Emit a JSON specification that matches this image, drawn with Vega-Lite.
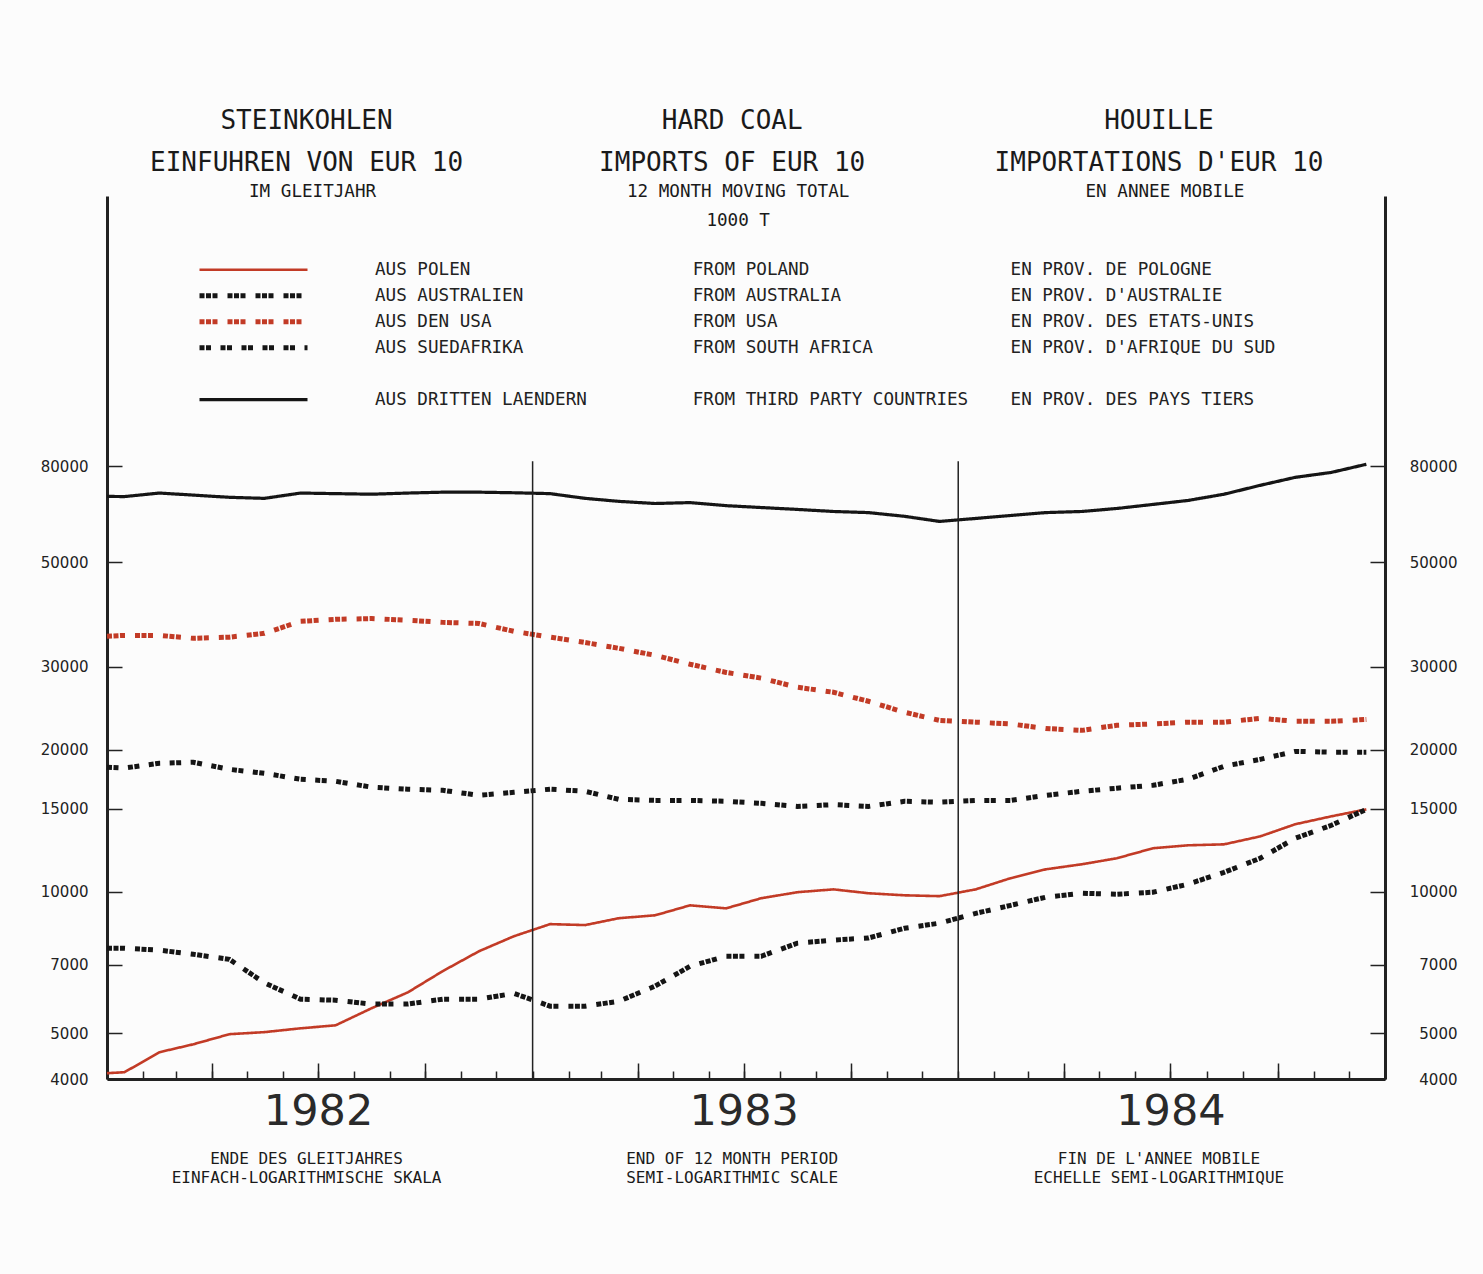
{
  "$schema": "https://vega.github.io/schema/vega-lite/v6.json",
  "width": 1278,
  "height": 883,
  "padding": {"left": 40, "top": 107, "right": 26, "bottom": 89},
  "background": "#fcfcfc",
  "datasets": {
    "lines": [
      {"s":"Polen","d":"1982-01-01T00:00","v":4115},
      {"s":"Polen","d":"1982-01-16T00:00","v":4135},{"s":"Polen","d":"1982-02-15T00:00","v":4560},{"s":"Polen","d":"1982-03-16T00:00","v":4740},{"s":"Polen","d":"1982-04-16T00:00","v":4980},{"s":"Polen","d":"1982-05-16T00:00","v":5030},{"s":"Polen","d":"1982-06-16T00:00","v":5125},{"s":"Polen","d":"1982-07-16T00:00","v":5200},{"s":"Polen","d":"1982-08-16T00:00","v":5655},{"s":"Polen","d":"1982-09-16T00:00","v":6110},{"s":"Polen","d":"1982-10-16T00:00","v":6780},{"s":"Polen","d":"1982-11-16T00:00","v":7470},{"s":"Polen","d":"1982-12-16T00:00","v":8040},
      {"s":"Polen","d":"1983-01-16T00:00","v":8530},{"s":"Polen","d":"1983-02-15T00:00","v":8490},{"s":"Polen","d":"1983-03-16T00:00","v":8780},{"s":"Polen","d":"1983-04-16T00:00","v":8905},{"s":"Polen","d":"1983-05-16T00:00","v":9350},{"s":"Polen","d":"1983-06-16T00:00","v":9215},{"s":"Polen","d":"1983-07-16T00:00","v":9680},{"s":"Polen","d":"1983-08-16T00:00","v":9970},{"s":"Polen","d":"1983-09-16T00:00","v":10110},{"s":"Polen","d":"1983-10-16T00:00","v":9920},{"s":"Polen","d":"1983-11-16T00:00","v":9820},{"s":"Polen","d":"1983-12-16T00:00","v":9780},
      {"s":"Polen","d":"1984-01-16T00:00","v":10110},{"s":"Polen","d":"1984-02-15T00:00","v":10680},{"s":"Polen","d":"1984-03-16T00:00","v":11150},{"s":"Polen","d":"1984-04-16T00:00","v":11430},{"s":"Polen","d":"1984-05-16T00:00","v":11770},{"s":"Polen","d":"1984-06-16T00:00","v":12360},{"s":"Polen","d":"1984-07-16T00:00","v":12540},{"s":"Polen","d":"1984-08-16T00:00","v":12600},{"s":"Polen","d":"1984-09-16T00:00","v":13100},{"s":"Polen","d":"1984-10-16T00:00","v":13900},{"s":"Polen","d":"1984-11-16T00:00","v":14450},{"s":"Polen","d":"1984-12-16T00:00","v":14950},

      {"s":"Australien","d":"1982-01-01T00:00","v":7580},
      {"s":"Australien","d":"1982-01-16T00:00","v":7580},{"s":"Australien","d":"1982-02-15T00:00","v":7510},{"s":"Australien","d":"1982-03-16T00:00","v":7360},{"s":"Australien","d":"1982-04-16T00:00","v":7180},{"s":"Australien","d":"1982-05-16T00:00","v":6400},{"s":"Australien","d":"1982-06-16T00:00","v":5910},{"s":"Australien","d":"1982-07-16T00:00","v":5880},{"s":"Australien","d":"1982-08-16T00:00","v":5770},{"s":"Australien","d":"1982-09-16T00:00","v":5770},{"s":"Australien","d":"1982-10-16T00:00","v":5910},{"s":"Australien","d":"1982-11-16T00:00","v":5910},{"s":"Australien","d":"1982-12-16T00:00","v":6080},
      {"s":"Australien","d":"1983-01-16T00:00","v":5710},{"s":"Australien","d":"1983-02-15T00:00","v":5710},{"s":"Australien","d":"1983-03-16T00:00","v":5850},{"s":"Australien","d":"1983-04-16T00:00","v":6300},{"s":"Australien","d":"1983-05-16T00:00","v":6940},{"s":"Australien","d":"1983-06-16T00:00","v":7290},{"s":"Australien","d":"1983-07-16T00:00","v":7290},{"s":"Australien","d":"1983-08-16T00:00","v":7770},{"s":"Australien","d":"1983-09-16T00:00","v":7890},{"s":"Australien","d":"1983-10-16T00:00","v":7970},{"s":"Australien","d":"1983-11-16T00:00","v":8360},{"s":"Australien","d":"1983-12-16T00:00","v":8570},
      {"s":"Australien","d":"1984-01-16T00:00","v":8990},{"s":"Australien","d":"1984-02-15T00:00","v":9350},{"s":"Australien","d":"1984-03-16T00:00","v":9730},{"s":"Australien","d":"1984-04-16T00:00","v":9920},{"s":"Australien","d":"1984-05-16T00:00","v":9870},{"s":"Australien","d":"1984-06-16T00:00","v":9970},{"s":"Australien","d":"1984-07-16T00:00","v":10370},{"s":"Australien","d":"1984-08-16T00:00","v":10990},{"s":"Australien","d":"1984-09-16T00:00","v":11770},{"s":"Australien","d":"1984-10-16T00:00","v":12980},{"s":"Australien","d":"1984-11-16T00:00","v":13830},{"s":"Australien","d":"1984-12-16T00:00","v":14950},

      {"s":"USA","d":"1982-01-01T00:00","v":34850},
      {"s":"USA","d":"1982-01-16T00:00","v":35000},{"s":"USA","d":"1982-02-15T00:00","v":35000},{"s":"USA","d":"1982-03-16T00:00","v":34500},{"s":"USA","d":"1982-04-16T00:00","v":34700},{"s":"USA","d":"1982-05-16T00:00","v":35350},{"s":"USA","d":"1982-06-16T00:00","v":37500},{"s":"USA","d":"1982-07-16T00:00","v":37860},{"s":"USA","d":"1982-08-16T00:00","v":38000},{"s":"USA","d":"1982-09-16T00:00","v":37700},{"s":"USA","d":"1982-10-16T00:00","v":37300},{"s":"USA","d":"1982-11-16T00:00","v":37100},{"s":"USA","d":"1982-12-16T00:00","v":35700},
      {"s":"USA","d":"1983-01-16T00:00","v":34700},{"s":"USA","d":"1983-02-15T00:00","v":33800},{"s":"USA","d":"1983-03-16T00:00","v":32860},{"s":"USA","d":"1983-04-16T00:00","v":31750},{"s":"USA","d":"1983-05-16T00:00","v":30400},{"s":"USA","d":"1983-06-16T00:00","v":29200},{"s":"USA","d":"1983-07-16T00:00","v":28400},{"s":"USA","d":"1983-08-16T00:00","v":27160},{"s":"USA","d":"1983-09-16T00:00","v":26500},{"s":"USA","d":"1983-10-16T00:00","v":25360},{"s":"USA","d":"1983-11-16T00:00","v":24030},{"s":"USA","d":"1983-12-16T00:00","v":23100},
      {"s":"USA","d":"1984-01-16T00:00","v":22900},{"s":"USA","d":"1984-02-15T00:00","v":22700},{"s":"USA","d":"1984-03-16T00:00","v":22200},{"s":"USA","d":"1984-04-16T00:00","v":22000},{"s":"USA","d":"1984-05-16T00:00","v":22550},{"s":"USA","d":"1984-06-16T00:00","v":22700},{"s":"USA","d":"1984-07-16T00:00","v":22900},{"s":"USA","d":"1984-08-16T00:00","v":22900},{"s":"USA","d":"1984-09-16T00:00","v":23330},{"s":"USA","d":"1984-10-16T00:00","v":23000},{"s":"USA","d":"1984-11-16T00:00","v":23000},{"s":"USA","d":"1984-12-16T00:00","v":23200},

      {"s":"Suedafrika","d":"1982-01-01T00:00","v":18370},
      {"s":"Suedafrika","d":"1982-01-16T00:00","v":18300},{"s":"Suedafrika","d":"1982-02-15T00:00","v":18730},{"s":"Suedafrika","d":"1982-03-16T00:00","v":18820},{"s":"Suedafrika","d":"1982-04-16T00:00","v":18180},{"s":"Suedafrika","d":"1982-05-16T00:00","v":17830},{"s":"Suedafrika","d":"1982-06-16T00:00","v":17320},{"s":"Suedafrika","d":"1982-07-16T00:00","v":17150},{"s":"Suedafrika","d":"1982-08-16T00:00","v":16660},{"s":"Suedafrika","d":"1982-09-16T00:00","v":16500},{"s":"Suedafrika","d":"1982-10-16T00:00","v":16410},{"s":"Suedafrika","d":"1982-11-16T00:00","v":16010},{"s":"Suedafrika","d":"1982-12-16T00:00","v":16250},
      {"s":"Suedafrika","d":"1983-01-16T00:00","v":16500},{"s":"Suedafrika","d":"1983-02-15T00:00","v":16330},{"s":"Suedafrika","d":"1983-03-16T00:00","v":15700},{"s":"Suedafrika","d":"1983-04-16T00:00","v":15620},{"s":"Suedafrika","d":"1983-05-16T00:00","v":15620},{"s":"Suedafrika","d":"1983-06-16T00:00","v":15550},{"s":"Suedafrika","d":"1983-07-16T00:00","v":15400},{"s":"Suedafrika","d":"1983-08-16T00:00","v":15170},{"s":"Suedafrika","d":"1983-09-16T00:00","v":15300},{"s":"Suedafrika","d":"1983-10-16T00:00","v":15170},{"s":"Suedafrika","d":"1983-11-16T00:00","v":15550},{"s":"Suedafrika","d":"1983-12-16T00:00","v":15480},
      {"s":"Suedafrika","d":"1984-01-16T00:00","v":15620},{"s":"Suedafrika","d":"1984-02-15T00:00","v":15620},{"s":"Suedafrika","d":"1984-03-16T00:00","v":16010},{"s":"Suedafrika","d":"1984-04-16T00:00","v":16330},{"s":"Suedafrika","d":"1984-05-16T00:00","v":16580},{"s":"Suedafrika","d":"1984-06-16T00:00","v":16820},{"s":"Suedafrika","d":"1984-07-16T00:00","v":17320},{"s":"Suedafrika","d":"1984-08-16T00:00","v":18460},{"s":"Suedafrika","d":"1984-09-16T00:00","v":19090},{"s":"Suedafrika","d":"1984-10-16T00:00","v":19850},{"s":"Suedafrika","d":"1984-11-16T00:00","v":19770},{"s":"Suedafrika","d":"1984-12-16T00:00","v":19770},

      {"s":"Dritte","d":"1982-01-01T00:00","v":69060},
      {"s":"Dritte","d":"1982-01-16T00:00","v":69000},{"s":"Dritte","d":"1982-02-15T00:00","v":70200},{"s":"Dritte","d":"1982-03-16T00:00","v":69500},{"s":"Dritte","d":"1982-04-16T00:00","v":68750},{"s":"Dritte","d":"1982-05-16T00:00","v":68400},{"s":"Dritte","d":"1982-06-16T00:00","v":70200},{"s":"Dritte","d":"1982-07-16T00:00","v":70000},{"s":"Dritte","d":"1982-08-16T00:00","v":69800},{"s":"Dritte","d":"1982-09-16T00:00","v":70200},{"s":"Dritte","d":"1982-10-16T00:00","v":70500},{"s":"Dritte","d":"1982-11-16T00:00","v":70500},{"s":"Dritte","d":"1982-12-16T00:00","v":70300},
      {"s":"Dritte","d":"1983-01-16T00:00","v":70000},{"s":"Dritte","d":"1983-02-15T00:00","v":68400},{"s":"Dritte","d":"1983-03-16T00:00","v":67400},{"s":"Dritte","d":"1983-04-16T00:00","v":66700},{"s":"Dritte","d":"1983-05-16T00:00","v":67000},{"s":"Dritte","d":"1983-06-16T00:00","v":66000},{"s":"Dritte","d":"1983-07-16T00:00","v":65400},{"s":"Dritte","d":"1983-08-16T00:00","v":64800},{"s":"Dritte","d":"1983-09-16T00:00","v":64150},{"s":"Dritte","d":"1983-10-16T00:00","v":63800},{"s":"Dritte","d":"1983-11-16T00:00","v":62650},{"s":"Dritte","d":"1983-12-16T00:00","v":61100},
      {"s":"Dritte","d":"1984-01-16T00:00","v":62000},{"s":"Dritte","d":"1984-02-15T00:00","v":62900},{"s":"Dritte","d":"1984-03-16T00:00","v":63800},{"s":"Dritte","d":"1984-04-16T00:00","v":64150},{"s":"Dritte","d":"1984-05-16T00:00","v":65100},{"s":"Dritte","d":"1984-06-16T00:00","v":66400},{"s":"Dritte","d":"1984-07-16T00:00","v":67700},{"s":"Dritte","d":"1984-08-16T00:00","v":69800},{"s":"Dritte","d":"1984-09-16T00:00","v":72900},{"s":"Dritte","d":"1984-10-16T00:00","v":75800},{"s":"Dritte","d":"1984-11-16T00:00","v":77650},{"s":"Dritte","d":"1984-12-16T00:00","v":80800}
    ],
    "years": [
      {"d":"1983-01-01T00:00","lo":4000,"hi":82000},
      {"d":"1984-01-01T00:00","lo":4000,"hi":82000}
    ]
  },
  "encoding": {
    "color": {
      "field": "s", "type": "nominal",
      "scale": {"domain": ["Polen","Australien","USA","Suedafrika","Leer","Dritte"],
                "range": ["#c23b26","#151515","#c23b26","#151515","transparent","#151515"]},
      "legend": {
        "orient": "none", "legendX": 90, "legendY": 61, "title": null,
        "symbolType": "stroke", "symbolSize": 11664, "clipHeight": 25.4,
        "rowPadding": 0, "padding": 0, "labelOffset": 65, "symbolOffset": 0,
        "labelFont": "DejaVu Sans Mono", "labelFontSize": 17.6, "labelColor": "#222", "labelLimit": 2000,
        "labelExpr": "datum.label=='Polen' ? pad('AUS POLEN',30,'\u00a0')+pad('FROM POLAND',30,'\u00a0')+'EN PROV. DE POLOGNE' : datum.label=='Australien' ? pad('AUS AUSTRALIEN',30,'\u00a0')+pad('FROM AUSTRALIA',30,'\u00a0')+\"EN PROV. D'AUSTRALIE\" : datum.label=='USA' ? pad('AUS DEN USA',30,'\u00a0')+pad('FROM USA',30,'\u00a0')+'EN PROV. DES ETATS-UNIS' : datum.label=='Suedafrika' ? pad('AUS SUEDAFRIKA',30,'\u00a0')+pad('FROM SOUTH AFRICA',30,'\u00a0')+\"EN PROV. D'AFRIQUE DU SUD\" : datum.label=='Dritte' ? pad('AUS DRITTEN LAENDERN',30,'\u00a0')+pad('FROM THIRD PARTY COUNTRIES',30,'\u00a0')+'EN PROV. DES PAYS TIERS' : ''"
      }
    },
    "strokeDash": {
      "field": "s", "type": "nominal",
      "scale": {"domain": ["Polen","Australien","USA","Suedafrika","Leer","Dritte"],
                "range": [[1,0],[5,1.5,5,1.5,5,10],[5,1.5,5,1.5,5,10],[5,1.5,5,9.5],[1,0],[1,0]]},
      "legend": {
        "orient": "none", "legendX": 90, "legendY": 61, "title": null,
        "symbolType": "stroke", "symbolSize": 11664, "clipHeight": 25.4,
        "rowPadding": 0, "padding": 0, "labelOffset": 65, "symbolOffset": 0,
        "labelFont": "DejaVu Sans Mono", "labelFontSize": 17.6, "labelColor": "#222", "labelLimit": 2000
      }
    },
    "strokeWidth": {
      "field": "s", "type": "nominal",
      "scale": {"type": "ordinal", "domain": ["Polen","Australien","USA","Suedafrika","Leer","Dritte"],
                "range": [2.6,5,5,5,1,3.2]},
      "legend": {
        "orient": "none", "legendX": 90, "legendY": 61, "title": null,
        "symbolType": "stroke", "symbolSize": 11664, "clipHeight": 25.4,
        "rowPadding": 0, "padding": 0, "labelOffset": 65, "symbolOffset": 0,
        "labelFont": "DejaVu Sans Mono", "labelFontSize": 17.6, "labelColor": "#222", "labelLimit": 2000
      }
    }
  },
  "layer": [
    {
      "data": {"name": "lines"},
      "transform": [{"filter": "datum.s=='Polen' || datum.s=='Dritte'"}],
      "mark": {"type": "line"},
      "encoding": {
        "x": {"field": "d", "type": "temporal", "title": null,
              "scale": {"domain": [{"year":1982,"month":1,"date":1},{"year":1985,"month":1,"date":1}]},
              "axis": {"orient": "bottom", "tickCount": {"interval": "month", "step": 1}, "labels": false,
                       "ticks": true, "tickSize": -8, "tickWidth": 1.5, "tickColor": "#222",
                       "domain": true, "domainWidth": 3, "domainColor": "#222", "grid": false}},
        "y": {"field": "v", "type": "quantitative", "title": null,
              "scale": {"type": "log", "domain": [4000, 300000], "nice": false},
              "axis": {"orient": "left", "values": [4000,5000,7000,10000,15000,20000,30000,50000,80000],
                       "format": "d", "tickSize": -15, "tickWidth": 1.5, "tickColor": "#222",
                       "domain": true, "domainWidth": 3, "domainColor": "#222", "grid": false,
                       "labelFont": "DejaVu Sans", "labelFontSize": 15, "labelColor": "#222",
                       "labelPadding": 34, "labelOverlap": false, "labelFlush": false, "labelBound": false}}
      }
    },
    {
      "data": {"name": "lines"},
      "transform": [{"filter": "datum.s=='USA'"}],
      "mark": {"type": "line"},
      "encoding": {
        "x": {"field": "d", "type": "temporal", "title": null,
              "scale": {"domain": [{"year":1982,"month":1,"date":1},{"year":1985,"month":1,"date":1}]},
              "axis": {"orient": "top", "values": [{"year":1982,"month":7,"date":1},{"year":1983,"month":7,"date":1},{"year":1984,"month":7,"date":1}],
                       "ticks": false, "tickSize": 0, "domain": false, "grid": false,
                       "labelExpr": "year(datum.value)==1982 ? ['STEINKOHLEN','EINFUHREN VON EUR 10'] : year(datum.value)==1983 ? ['HARD COAL','IMPORTS OF EUR 10'] : ['HOUILLE',\"IMPORTATIONS D'EUR 10\"]",
                       "labelFont": "DejaVu Sans Mono", "labelFontSize": 26, "labelLineHeight": 42, "labelColor": "#1a1a1a",
                       "labelBaseline": "top", "labelPadding": 89, "labelOffset": -12,
                       "labelOverlap": false, "labelFlush": false, "labelLimit": 1000}},
        "y": {"field": "v", "type": "quantitative", "title": null,
              "scale": {"type": "log", "domain": [4000, 300000], "nice": false}, "axis": null}
      }
    },
    {
      "data": {"name": "lines"},
      "transform": [{"filter": "datum.s=='Australien'"}],
      "mark": {"type": "line"},
      "encoding": {
        "x": {"field": "d", "type": "temporal", "title": null,
              "scale": {"domain": [{"year":1982,"month":1,"date":1},{"year":1985,"month":1,"date":1}]},
              "axis": {"orient": "top", "values": [{"year":1982,"month":7,"date":1},{"year":1983,"month":7,"date":1},{"year":1984,"month":7,"date":1}],
                       "ticks": false, "tickSize": 0, "domain": false, "grid": false,
                       "labelExpr": "year(datum.value)==1982 ? ['IM GLEITJAHR'] : year(datum.value)==1983 ? ['12 MONTH MOVING TOTAL','1000 T'] : ['EN ANNEE MOBILE']",
                       "labelFont": "DejaVu Sans Mono", "labelFontSize": 17.6, "labelLineHeight": 29, "labelColor": "#1a1a1a",
                       "labelBaseline": "top", "labelPadding": 14, "labelOffset": -6,
                       "labelOverlap": false, "labelFlush": false, "labelLimit": 1000}},
        "y": {"field": "v", "type": "quantitative", "title": null,
              "scale": {"type": "log", "domain": [4000, 300000], "nice": false}, "axis": null}
      }
    },
    {
      "data": {"name": "lines"},
      "transform": [{"filter": "datum.s=='Suedafrika'"}],
      "mark": {"type": "line"},
      "encoding": {
        "x": {"field": "d", "type": "temporal", "title": null,
              "scale": {"domain": [{"year":1982,"month":1,"date":1},{"year":1985,"month":1,"date":1}]},
              "axis": {"orient": "bottom", "values": [{"year":1982,"month":7,"date":1},{"year":1983,"month":7,"date":1},{"year":1984,"month":7,"date":1}],
                       "ticks": false, "tickSize": 0, "domain": false, "grid": false,
                       "labelExpr": "year(datum.value)==1982 ? ['ENDE DES GLEITJAHRES','EINFACH-LOGARITHMISCHE SKALA'] : year(datum.value)==1983 ? ['END OF 12 MONTH PERIOD','SEMI-LOGARITHMIC SCALE'] : [\"FIN DE L'ANNEE MOBILE\",'ECHELLE SEMI-LOGARITHMIQUE']",
                       "labelFont": "DejaVu Sans Mono", "labelFontSize": 16, "labelLineHeight": 19, "labelColor": "#1a1a1a",
                       "labelBaseline": "top", "labelPadding": 71, "labelOffset": -12,
                       "labelOverlap": false, "labelFlush": false, "labelLimit": 1000}},
        "y": {"field": "v", "type": "quantitative", "title": null,
              "scale": {"type": "log", "domain": [4000, 300000], "nice": false}, "axis": null}
      }
    },
    {
      "data": {"name": "years"},
      "mark": {"type": "rule"},
      "encoding": {
        "x": {"field": "d", "type": "temporal", "title": null,
              "scale": {"domain": [{"year":1982,"month":1,"date":1},{"year":1985,"month":1,"date":1}]},
              "axis": {"orient": "bottom",
                       "values": [{"year":1982,"month":4,"date":1},{"year":1982,"month":7,"date":1},{"year":1982,"month":10,"date":1},
                                  {"year":1983,"month":4,"date":1},{"year":1983,"month":7,"date":1},{"year":1983,"month":10,"date":1},
                                  {"year":1984,"month":4,"date":1},{"year":1984,"month":7,"date":1},{"year":1984,"month":10,"date":1}],
                       "ticks": true, "tickSize": -16, "tickWidth": 1.5, "tickColor": "#222", "domain": false, "grid": false,
                       "labelExpr": "month(datum.value)==6 ? timeFormat(datum.value, '%Y') : ''",
                       "labelFont": "DejaVu Sans", "labelFontSize": 43, "labelColor": "#2a2a2a",
                       "labelBaseline": "top", "labelPadding": 27,
                       "labelOverlap": false, "labelFlush": false, "labelLimit": 1000}},
        "y": {"field": "lo", "type": "quantitative", "title": null,
              "scale": {"type": "log", "domain": [4000, 300000], "nice": false},
              "axis": {"orient": "right", "values": [4000,5000,7000,10000,15000,20000,30000,50000,80000],
                       "format": "d", "tickSize": -15, "tickWidth": 1.5, "tickColor": "#222",
                       "domain": true, "domainWidth": 3, "domainColor": "#222", "grid": false,
                       "labelFont": "DejaVu Sans", "labelFontSize": 15, "labelColor": "#222",
                       "labelAlign": "right", "labelPadding": 87, "labelOverlap": false, "labelFlush": false, "labelBound": false}},
        "y2": {"field": "hi"},
        "color": {"value": "#222"},
        "strokeDash": {"value": [1, 0]},
        "strokeWidth": {"value": 1.5}
      }
    }
  ],
  "resolve": {"axis": {"x": "independent", "y": "independent"}},
  "config": {
    "view": {"stroke": null},
    "font": "DejaVu Sans",
    "line": {"strokeCap": "butt"}
  }
}
